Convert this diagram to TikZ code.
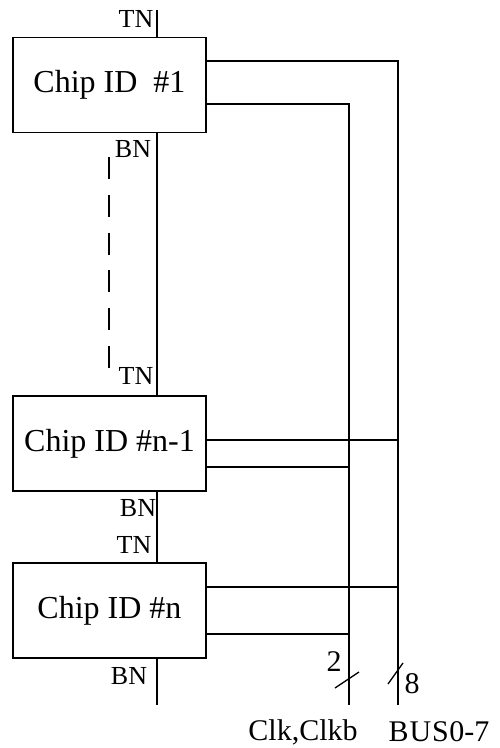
\documentclass[tikz,border=0pt]{standalone}
\usepackage{fontspec}
\setmainfont{Liberation Serif}
\begin{document}
\begin{tikzpicture}[x=1pt,y=-1pt,
  line/.style={line width=1.3pt},
  chip/.style={draw,line width=1.3pt,rectangle,minimum width=193pt,minimum height=95pt,inner sep=0pt,font=\fontsize{32}{32}\selectfont},
  pin/.style={inner sep=0pt,font=\fontsize{26}{26}\selectfont},
  big/.style={inner sep=0pt,font=\fontsize{30}{30}\selectfont}]
\useasboundingbox (0,0) rectangle (499,748);
% chips
\node[chip] (c1) at (109.5,85) {Chip ID~~\#1};
\node[chip] (c2) at (109.5,443.5) {Chip ID \#n-1};
\node[chip] (c3) at (109.5,610.5) {Chip ID \#n};
% chain coordinates
\coordinate (tn1) at (157,10);
\coordinate (bn3) at (157,705);
\draw[line] (tn1) -- (tn1 |- c1.north);
\draw[line] (tn1 |- c1.south) -- (tn1 |- c2.north);
\draw[line] (tn1 |- c2.south) -- (tn1 |- c3.north);
\draw[line] (tn1 |- c3.south) -- (bn3);
% dashed
\coordinate (d1) at (109,157);
\coordinate (d2) at (109,368);
\draw[line width=1.8pt,dash pattern=on 22pt off 15.8pt] (d1) -- (d2);
% bus lines
\coordinate (busT) at (398,61);
\coordinate (clkT) at (349,104);
\coordinate (busB) at (398,705);
\coordinate (clkB) at (349,705);
\draw[line] (c1.east |- busT) -- (busT) -- (busB);
\draw[line] (c1.east |- clkT) -- (clkT) -- (clkB);
\coordinate (c2a) at (398,440);
\coordinate (c2b) at (349,467);
\draw[line] (c2.east |- c2a) -- (c2a);
\draw[line] (c2.east |- c2b) -- (c2b);
\coordinate (c3a) at (398,587);
\coordinate (c3b) at (349,634);
\draw[line] (c3.east |- c3a) -- (c3a);
\draw[line] (c3.east |- c3b) -- (c3b);
% slashes
\coordinate (s1a) at (335,688);
\coordinate (s1b) at (359,672);
\coordinate (s2a) at (388,684);
\coordinate (s2b) at (403,663);
\draw[line] (s1a) -- (s1b);
\draw[line] (s2a) -- (s2b);
% labels
\node[pin] (l1) at (136,19) {TN};
\node[pin] (l2) at (133,149) {BN};
\node[pin] (l3) at (136,376) {TN};
\node[pin] (l4) at (138,508) {BN};
\node[pin] (l5) at (134,545) {TN};
\node[pin] (l6) at (129,676) {BN};
\node[big] (n2) at (334,662) {2};
\node[big] (n8) at (412,684) {8};
\node[big] (clk) at (303,732) {Clk,Clkb};
\node[big] (bus) at (439,732) {B\kern1pt U\kern1pt S\kern0.5pt 0-7};
\end{tikzpicture}
\end{document}
